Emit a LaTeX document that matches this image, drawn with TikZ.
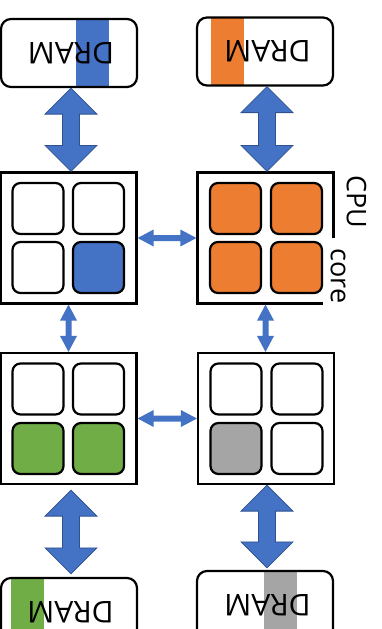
\documentclass[tikz,border=0pt]{standalone}
\usepackage{fontspec}
\setmainfont{Open Sans}
\usetikzlibrary{calc}

\definecolor{cblue}{HTML}{4472C4}
\definecolor{cblueedge}{HTML}{2F528F}
\definecolor{corange}{HTML}{ED7D31}
\definecolor{cgreen}{HTML}{70AD47}
\definecolor{cgray}{HTML}{A5A5A5}

% vertical double-headed block arrow: style, upper end, lower end,
% head half-width, shaft half-width, head length
\newcommand\vdbl[6]{%
  \path[#1] let \p1=(#2), \p2=(#3) in
    (\x1,\y1) -- ({\x1+#4},{\y1-#6}) -- ({\x1+#5},{\y1-#6}) -- ({\x1+#5},{\y2+#6})
    -- ({\x1+#4},{\y2+#6}) -- (\x1,\y2) -- ({\x1-#4},{\y2+#6}) -- ({\x1-#5},{\y2+#6})
    -- ({\x1-#5},{\y1-#6}) -- ({\x1-#4},{\y1-#6}) -- cycle;}
% horizontal double-headed block arrow: style, left end, right end,
% head half-width, shaft half-width, head length
\newcommand\hdbl[6]{%
  \path[#1] let \p1=(#2), \p2=(#3) in
    (\x1,\y1) -- ({\x1+#6},{\y1+#4}) -- ({\x1+#6},{\y1+#5}) -- ({\x2-#6},{\y1+#5})
    -- ({\x2-#6},{\y1+#4}) -- (\x2,\y1) -- ({\x2-#6},{\y1-#4}) -- ({\x2-#6},{\y1-#5})
    -- ({\x1+#6},{\y1-#5}) -- ({\x1+#6},{\y1-#4}) -- cycle;}

\tikzset{
  cpubox/.style={draw, line width=2.2pt, fill=white, inner sep=0pt,
    minimum width=136pt, minimum height=131pt},
  corebox/.style={draw, line width=2.2pt, rounded corners=8pt, fill=#1,
    inner sep=0pt, minimum size=51pt},
  corebox/.default=white,
  drambox/.style n args={3}{draw, line width=2.2pt, rounded corners=10pt, fill=white,
    inner sep=0pt, minimum width=136pt, minimum height=68pt,
    path picture={\fill[#1, sharp corners]
      ([xshift=#2]path picture bounding box.north west) rectangle
      ([xshift=#3]path picture bounding box.south west);}},
  dramlabel/.style={rotate=180, inner sep=0pt, font=\fontsize{30}{30}\selectfont},
  sidelabel/.style={rotate=-90, inner sep=0pt, font=\fontsize{27}{27}\selectfont},
  bigarrow/.style={fill=cblue, draw=cblueedge, line width=0.8pt},
  smallarrow/.style={fill=cblue},
}

\begin{document}
\begin{tikzpicture}[x=1pt, y=-1pt]
\useasboundingbox (0,0) rectangle (382,629);

% memory modules
\node[drambox={cblue}{75pt}{108pt}]   (dTL) at (69,53)    {};
\node[drambox={corange}{14pt}{47pt}]  (dTR) at (265,51.5) {};
\node[drambox={cgreen}{10pt}{43pt}]   (dBL) at (69,612)   {};
\node[drambox={cgray}{67pt}{100pt}]   (dBR) at (265,605)  {};
\node[dramlabel] (tTL) at ([xshift=2pt]dTL.center) {DRAM};
\node[dramlabel] (tTR) at ([xshift=2.5pt]dTR.center) {DRAM};
\node[dramlabel] (tBL) at ([xshift=1.5pt]dBL.center) {DRAM};
\node[dramlabel] (tBR) at ([xshift=2.5pt]dBR.center) {DRAM};

% processor packages
\node[cpubox] (cTL) at (68.5,238)   {};
\node[cpubox] (cTR) at (265.5,238)  {};
\node[cpubox] (cBL) at (68.5,418.5) {};
\node[cpubox] (cBR) at (266,418.5)  {};

% labels on the right of the upper-right package
\node[sidelabel] (cpulbl) at (356.5,201.5) {CPU};
\node[sidelabel, fill=white, inner xsep=11pt, inner ysep=8pt] (corelbl) at (338,276) {core};

% cores
\node[corebox]         (kTL1) at ($(cTL.center)+(-30.5,-29.5)$) {};
\node[corebox]         (kTL2) at ($(cTL.center)+(30,-29.5)$)    {};
\node[corebox]         (kTL3) at ($(cTL.center)+(-30.5,29.5)$)  {};
\node[corebox=cblue]   (kTL4) at ($(cTL.center)+(30,29.5)$)     {};

\node[corebox=corange] (kTR1) at ($(cTR.center)+(-30,-29.5)$) {};
\node[corebox=corange] (kTR2) at ($(cTR.center)+(31,-29.5)$)  {};
\node[corebox=corange] (kTR3) at ($(cTR.center)+(-30,29.5)$)  {};
\node[corebox=corange] (kTR4) at ($(cTR.center)+(31,29.5)$)   {};

\node[corebox]         (kBL1) at ($(cBL.center)+(-30.5,-29.5)$) {};
\node[corebox]         (kBL2) at ($(cBL.center)+(30,-29.5)$)    {};
\node[corebox=cgreen]  (kBL3) at ($(cBL.center)+(-30.5,30)$)    {};
\node[corebox=cgreen]  (kBL4) at ($(cBL.center)+(30,30)$)       {};

\node[corebox]         (kBR1) at ($(cBR.center)+(-30,-29.5)$) {};
\node[corebox]         (kBR2) at ($(cBR.center)+(31,-29.5)$)  {};
\node[corebox=cgray]   (kBR3) at ($(cBR.center)+(-30,30)$)    {};
\node[corebox]         (kBR4) at ($(cBR.center)+(31,30)$)     {};

% memory links
\vdbl{bigarrow}{[xshift=2pt]dTL.south}{[xshift=2pt]cTL.north}{26pt}{8.5pt}{26pt}
\vdbl{bigarrow}{[xshift=2pt]dTR.south}{[xshift=2pt]cTR.north}{26pt}{8.5pt}{26pt}
\vdbl{bigarrow}{[xshift=2.5pt,yshift=-5pt]cBL.south}{[xshift=2.5pt,yshift=3pt]dBL.north}{26pt}{8.5pt}{26pt}
\vdbl{bigarrow}{[xshift=1pt]cBR.south}{[xshift=1pt,yshift=2pt]dBR.north}{26pt}{8.5pt}{26pt}

% inter-socket links
\hdbl{smallarrow}{cTL.east}{cTR.west}{8.5pt}{3pt}{16pt}
\hdbl{smallarrow}{cBL.east}{cBR.west}{8.5pt}{3pt}{16pt}
\vdbl{smallarrow}{cTL.south}{cBL.north}{8.5pt}{3pt}{16pt}
\vdbl{smallarrow}{cTR.south}{cBR.north}{8.5pt}{3pt}{16pt}
\end{tikzpicture}
\end{document}
